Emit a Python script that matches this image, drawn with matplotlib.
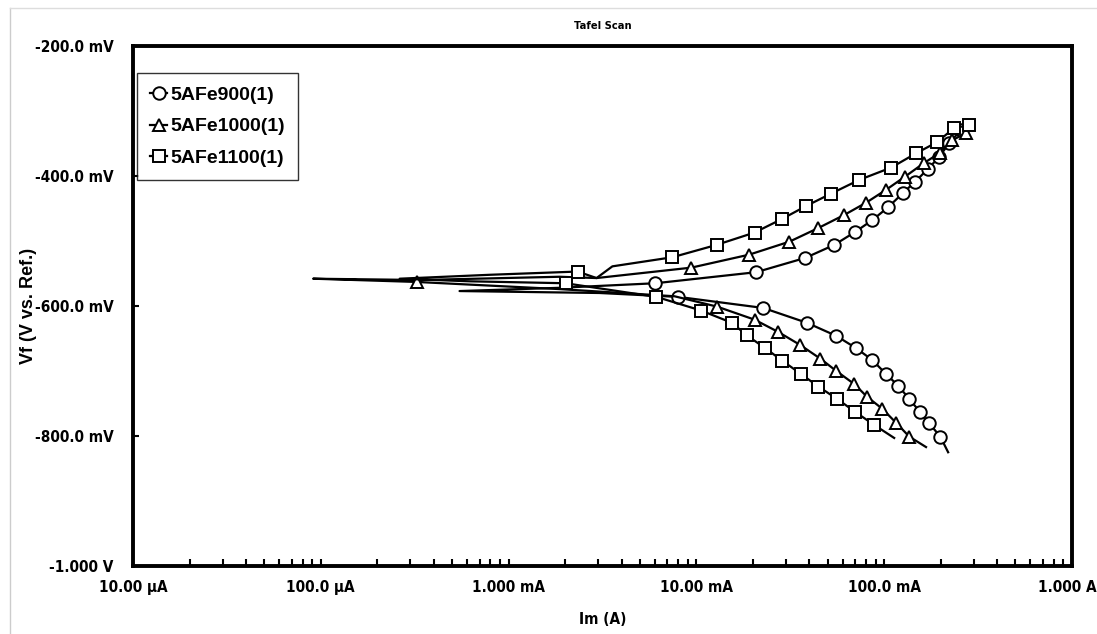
import matplotlib
matplotlib.use("Agg")
import matplotlib.pyplot as plt
import matplotlib.transforms as mtransforms
from matplotlib.lines import Line2D

# Tafel scan data: current (A) and potential (mV), in scan order (cathodic -> anodic)
ci_i = [0.219, 0.199, 0.173, 0.155, 0.136, 0.119, 0.1026, 8.63e-2, 7.10e-2, 5.56e-2,
        3.89e-2, 2.27e-2, 8.02e-3, 3.05e-3, 5.48e-4, 1.87e-3, 6.05e-3, 2.08e-2, 3.80e-2,
        5.42e-2, 7.01e-2, 8.63e-2, 0.105, 0.126, 0.146, 0.171, 0.196, 0.222, 0.257]
ci_v = [-825, -801, -780, -763, -743, -723, -705, -683, -665, -646,
        -626, -603, -586, -580, -577, -572, -565, -548, -526,
        -506, -486, -468, -448, -426, -409, -389, -371, -349, -329]
ci_mark = list(range(1, 13)) + list(range(16, 29))

tr_i = [0.167, 0.136, 0.116, 9.76e-2, 8.13e-2, 6.92e-2, 5.56e-2, 4.57e-2, 3.57e-2, 2.73e-2,
        2.04e-2, 1.29e-2, 7.64e-3, 1.87e-3, 3.24e-4, 9.1e-5, 3.4e-4, 1.87e-3, 2.94e-3,
        9.39e-3, 1.91e-2, 3.13e-2, 4.46e-2, 6.12e-2, 8.02e-2, 0.1026, 0.129, 0.163, 0.199,
        0.230, 0.273]
tr_v = [-817, -801, -780, -758, -740, -720, -700, -681, -660, -640,
        -621, -601, -585, -574, -563, -558, -560, -555, -557,
        -541, -521, -501, -480, -460, -441, -421, -401, -380, -364,
        -345, -334]
tr_mark = list(range(1, 12)) + [14] + list(range(19, 31))

sq_i = [0.113, 8.85e-2, 7.01e-2, 5.62e-2, 4.46e-2, 3.62e-2, 2.86e-2, 2.33e-2, 1.85e-2, 1.55e-2,
        1.06e-2, 6.13e-3, 2.01e-3, 6.2e-4, 2.63e-4, 7.9e-4, 2.33e-3, 2.94e-3, 3.57e-3,
        7.45e-3, 1.28e-2, 2.04e-2, 2.86e-2, 3.85e-2, 5.22e-2, 7.36e-2, 0.109, 0.148, 0.191,
        0.236, 0.283]
sq_v = [-803, -783, -763, -743, -724, -705, -684, -665, -645, -626,
        -607, -586, -565, -562, -558, -552, -547, -557, -539,
        -525, -506, -487, -466, -446, -427, -406, -387, -365, -348,
        -326, -322]
sq_mark = list(range(1, 13)) + [16] + list(range(19, 31))

labels = ['5AFe900(1)', '5AFe1000(1)', '5AFe1100(1)']

x_ticks = [1e-5, 1e-4, 1e-3, 1e-2, 1e-1, 1]
x_labels = ['10.00 µA', '100.0 µA', '1.000 mA', '10.00 mA', '100.0 mA', '1.000 A']
y_ticks = [-1000, -800, -600, -400, -200]
y_labels = ['-1.000 V', '-800.0 mV', '-600.0 mV', '-400.0 mV', '-200.0 mV']

cond = dict(family='DejaVu Sans', stretch='condensed', fontweight='bold')
arial = ['Liberation Sans', 'Roboto', 'DejaVu Sans']

fig = plt.figure(figsize=(10.97, 6.34), dpi=100)
ax = fig.add_axes([133 / 1097, 1 - 566 / 634, 939 / 1097, 520 / 634])

style = dict(color='black', lw=1.6, ms=9, mfc='white', mec='black', mew=1.4)
ax.plot(ci_i, ci_v, marker='o', markevery=ci_mark, label=labels[0], **style)
ax.plot(tr_i, tr_v, marker='^', markevery=tr_mark, label=labels[1], **style)
ax.plot(sq_i, sq_v, marker='s', markevery=sq_mark, label=labels[2], **style)

ax.set_xscale('log')
ax.set_xlim(1e-5, 1)
ax.set_ylim(-1000, -200)
ax.set_xticks(x_ticks)
ax.set_xticklabels(x_labels, fontsize=11, **cond)
ax.set_yticks(y_ticks)
ax.set_yticklabels(y_labels, fontsize=11, **cond)
ax.tick_params(axis='both', which='both', direction='in', top=False, right=False, width=1.5)
ax.tick_params(axis='x', which='major', length=5, pad=10)
ax.tick_params(axis='x', which='minor', length=5)
ax.tick_params(axis='y', which='major', length=4, pad=14)
for s in ax.spines.values():
    s.set_linewidth(2.8)

# nudge the last x label so it stays inside the figure
last = ax.get_xticklabels()[-1]
last.set_transform(last.get_transform() + mtransforms.ScaledTranslation(-5 / 100, 0, fig.dpi_scale_trans))

ax.set_xlabel('Im (A)', fontsize=11, labelpad=12, **cond)
ax.set_ylabel('Vf (V vs. Ref.)', family=arial, fontweight='bold', fontsize=13)
ax.yaxis.set_label_coords(-96 / 939, 0.5)
ax.set_title('Tafel Scan', fontsize=8, pad=12, **cond)

leg = ax.legend(loc='upper left', bbox_to_anchor=(0.004, 0.948), borderaxespad=0,
                prop={'family': arial, 'weight': 'bold', 'size': 14},
                handlelength=0.9, handletextpad=0.15, labelspacing=0.72,
                borderpad=0.68, fancybox=False, frameon=True)
leg.get_frame().set_edgecolor('black')
leg.get_frame().set_linewidth(1.0)

# light screenshot border
fig.add_artist(Line2D([10 / 1097, 10 / 1097], [0, 1 - 8 / 634], color='#cccccc', lw=1))
fig.add_artist(Line2D([10 / 1097, 1], [1 - 8 / 634, 1 - 8 / 634], color='#dddddd', lw=1))

fig.savefig('out.png', dpi=100)
